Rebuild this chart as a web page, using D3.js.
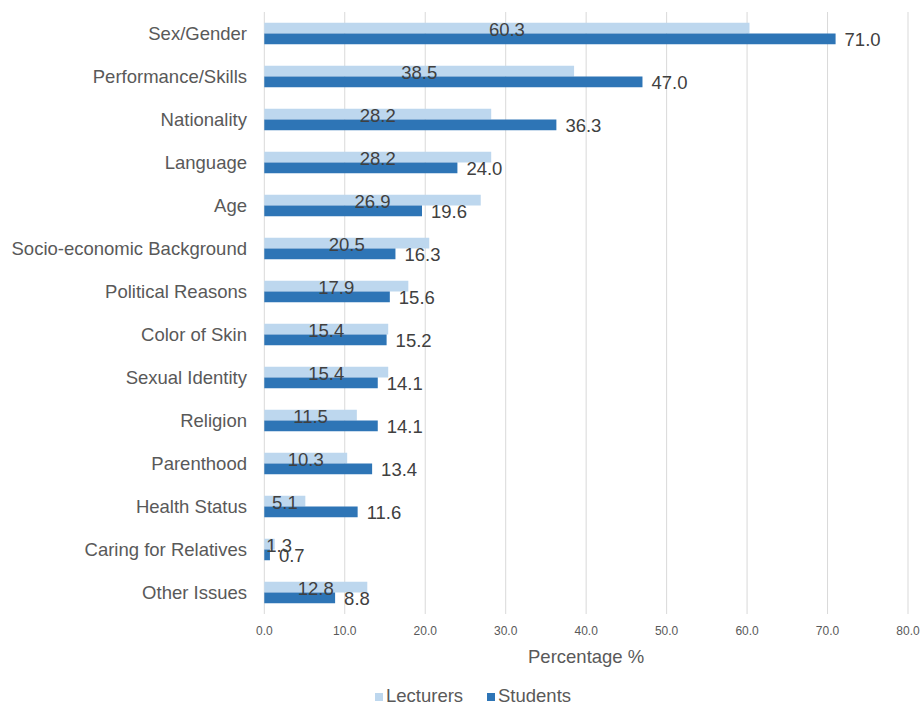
<!DOCTYPE html>
<html>
<head>
<meta charset="utf-8">
<script src="https://cdn.jsdelivr.net/npm/d3@7"></script>
<style>
  body { margin: 0; background: #fff; }
  svg text { font-family: "Liberation Sans", Arial, sans-serif; }
</style>
</head>
<body>
<svg id="chart"></svg>
<script>
const categories = ["Sex/Gender", "Performance/Skills", "Nationality", "Language", "Age",
  "Socio-economic Background", "Political Reasons", "Color of Skin", "Sexual Identity",
  "Religion", "Parenthood", "Health Status", "Caring for Relatives", "Other Issues"];
const seriesNames = ["Lecturers", "Students"];
const lecturers = [60.3, 38.5, 28.2, 28.2, 26.9, 20.5, 17.9, 15.4, 15.4, 11.5, 10.3, 5.1, 1.3, 12.8];
const students = [71.0, 47.0, 36.3, 24.0, 19.6, 16.3, 15.6, 15.2, 14.1, 14.1, 13.4, 11.6, 0.7, 8.8];
const xTicks = [0, 10, 20, 30, 40, 50, 60, 70, 80];
const colors = ["#BDD7EE", "#2E75B6"];

const width = 923, height = 706;
const svg = d3.select("#chart").attr("width", width).attr("height", height);

const plotLeft = 264.3, plotRight = 908, plotTop = 12, plotBottom = 614;
const fontSize = "18.5px";

const x = d3.scaleLinear().domain([0, 80]).range([plotLeft, plotRight]);
const y = d3.scaleBand().domain(categories).range([plotTop, plotBottom])
  .paddingInner(0.5).paddingOuter(0.25);
const ySub = d3.scaleBand().domain(seriesNames).range([0, y.bandwidth()]);

const rows = categories.map((c, i) => ({cat: c, vals: [lecturers[i], students[i]]}));

// gridlines
svg.append("g")
  .selectAll("line")
  .data(xTicks).enter()
  .append("line")
    .attr("x1", d => x(d)).attr("x2", d => x(d))
    .attr("y1", plotTop).attr("y2", plotBottom)
    .attr("stroke", "#D9D9D9")
    .attr("stroke-width", 1);

// tick labels
svg.append("g")
  .selectAll("text")
  .data(xTicks).enter()
  .append("text")
    .attr("x", d => x(d))
    .attr("y", 635)
    .attr("text-anchor", "middle")
    .attr("fill", "#595959")
    .style("font-family", "'Liberation Sans Narrow', 'Arial Narrow', sans-serif")
    .style("font-size", "12px")
    .text(d => d.toFixed(1));

// category labels
svg.append("g")
  .selectAll("text")
  .data(categories).enter()
  .append("text")
    .attr("x", 247)
    .attr("y", d => y(d) + y.bandwidth() / 2)
    .attr("dy", "0.35em")
    .attr("text-anchor", "end")
    .attr("fill", "#595959")
    .style("font-size", fontSize)
    .text(d => d);

// bars
const groups = svg.append("g")
  .selectAll("g")
  .data(rows).enter()
  .append("g")
    .attr("transform", d => `translate(0,${y(d.cat)})`);

groups.selectAll("rect")
  .data(d => d.vals.map((v, i) => ({v, s: seriesNames[i], i}))).enter()
  .append("rect")
    .attr("x", x(0))
    .attr("y", d => ySub(d.s))
    .attr("width", d => x(d.v) - x(0))
    .attr("height", ySub.bandwidth())
    .attr("fill", d => colors[d.i]);

// value labels
groups.selectAll("text")
  .data(d => d.vals.map((v, i) => ({v, s: seriesNames[i], i}))).enter()
  .append("text")
    .attr("y", d => ySub(d.s) + ySub.bandwidth() / 2 + 1)
    .attr("dy", "0.35em")
    .attr("fill", "#404040")
    .style("font-size", fontSize)
    .text(d => d.v.toFixed(1))
    .each(function(d) {
      const t = d3.select(this);
      if (d.i === 1) {
        t.attr("x", x(d.v) + 9).attr("text-anchor", "start");
      } else {
        const w = this.getComputedTextLength();
        const cx = Math.max((x(0) + x(d.v)) / 2, x(0) + w / 2 + 2);
        t.attr("x", cx).attr("text-anchor", "middle");
      }
    });

// axis title
svg.append("text")
  .attr("x", (plotLeft + plotRight) / 2)
  .attr("y", 663)
  .attr("text-anchor", "middle")
  .attr("fill", "#595959")
  .style("font-size", fontSize)
  .text("Percentage %");

// legend
const legend = svg.append("g");
const legendX = [375, 487];
seriesNames.forEach((s, i) => {
  legend.append("rect")
    .attr("x", legendX[i]).attr("y", 693)
    .attr("width", 8).attr("height", 8)
    .attr("fill", colors[i]);
  legend.append("text")
    .attr("x", legendX[i] + 11).attr("y", 696)
    .attr("dy", "0.35em")
    .attr("fill", "#595959")
    .style("font-size", fontSize)
    .text(s);
});
</script>
</body>
</html>
